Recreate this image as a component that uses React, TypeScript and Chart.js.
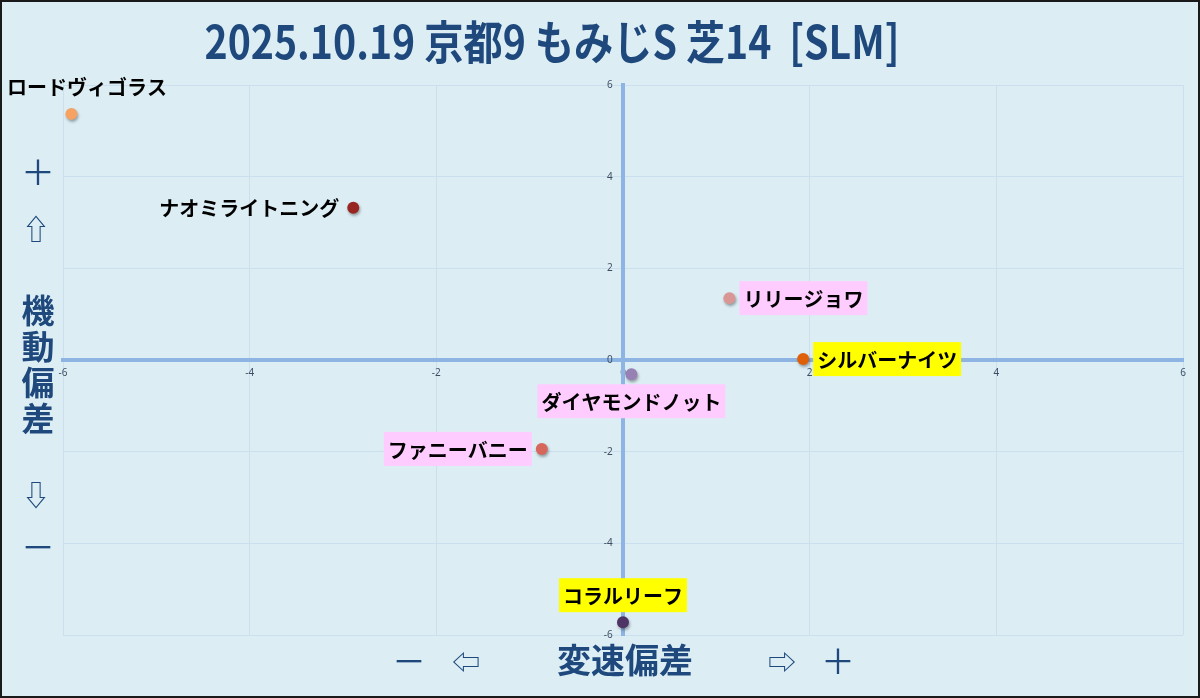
import { useEffect, useRef } from 'react';
import { Chart, registerables } from 'chart.js';

Chart.register(...registerables);

// ---- data ----
const horseNames = ['ロードヴィゴラス', 'ナオミライトニング', 'リリージョワ', 'シルバーナイツ', 'ダイヤモンドノット', 'ファニーバニー', 'コラルリーフ'];
const speedDeviation = [-5.91, -2.89, 1.14, 1.93, 0.09, -0.87, 0.0];
const mobilityDeviation = [5.37, 3.32, 1.35, 0.02, -0.31, -1.94, -5.72];

// ---- styles (kept apart from data) ----
const pointColors = ['#F5A263', '#982620', '#D99694', '#E0600A', '#9680B4', '#D6675C', '#4F3466'];
const labelHighlights = ['none', 'none', 'pink', 'yellow', 'pink', 'pink', 'yellow'];
const labelSides = ['top', 'left', 'right', 'right', 'bottom', 'left', 'top'];

const axisMin = -6;
const axisMax = 6;
const tickStep = 2;

const titleText = '2025.10.19 京都9 もみじS 芝14  [SLM]';
const yAxisTitleChars = ['機', '動', '偏', '差'];
const xAxisTitle = '変速偏差';

const NAVY = '#1F497D';
const JP = '"Noto Sans CJK JP", "Noto Sans", sans-serif';

const highlightFill: Record<string, string> = { pink: '#FFCCFF', yellow: '#FFFF00' };

const decorPlugin = {
  id: 'decor',
  beforeDraw(chart: any) {
    const { ctx, width, height } = chart;
    ctx.save();
    ctx.fillStyle = '#DCEEF4';
    ctx.fillRect(0, 0, width, height);
    ctx.restore();
  },
  beforeDatasetsDraw(chart: any) {
    const ctx = chart.ctx;
    ctx.save();
    ctx.shadowColor = 'rgba(0,0,0,0.35)';
    ctx.shadowBlur = 3;
    ctx.shadowOffsetX = 1;
    ctx.shadowOffsetY = 2;
  },
  afterDatasetsDraw(chart: any) {
    const ctx = chart.ctx;
    ctx.restore();
    const meta = chart.getDatasetMeta(0);
    const W = chart.width;
    ctx.save();
    ctx.font = `bold 20px ${JP}`;
    ctx.textBaseline = 'middle';
    ctx.textAlign = 'center';
    meta.data.forEach((pt: any, i: number) => {
      const { x, y } = pt.getProps(['x', 'y'], true);
      const name = horseNames[i];
      const tw = ctx.measureText(name).width;
      const padX = 4;
      const boxH = 34;
      const gap = 10;
      const bw = tw + padX * 2;
      let bx = 0;
      let by = 0;
      const side = labelSides[i];
      if (side === 'right') { bx = x + gap; by = y - boxH / 2; }
      else if (side === 'left') { bx = x - gap - bw; by = y - boxH / 2; }
      else if (side === 'top') { bx = x - bw / 2; by = y - gap - boxH; }
      else { bx = x - bw / 2; by = y + gap; }
      bx = Math.max(3, Math.min(W - 3 - bw, bx));
      const hl = labelHighlights[i];
      if (hl !== 'none') {
        ctx.fillStyle = highlightFill[hl];
        ctx.fillRect(bx, by, bw, boxH);
      }
      ctx.fillStyle = '#000000';
      ctx.fillText(name, bx + bw / 2, by + boxH / 2 + 1);
    });
    ctx.restore();
  },
  afterDraw(chart: any) {
    const { ctx, width, height } = chart;
    ctx.save();
    // title
    ctx.fillStyle = NAVY;
    ctx.textBaseline = 'middle';
    ctx.textAlign = 'center';
    ctx.font = `bold 46px ${JP}`;
    const tw = ctx.measureText(titleText).width;
    const sx = 695 / tw;
    ctx.save();
    ctx.translate(552, 42);
    ctx.scale(sx, 1);
    ctx.fillText(titleText, 0, 0);
    ctx.restore();

    // y axis title
    ctx.font = `34px ${JP}`;
    ctx.fillText('＋', 38, 172);
    ctx.fillText('－', 38, 547);
    ctx.font = `28px ${JP}`;
    ctx.fillText('⇧', 36, 229);
    ctx.fillText('⇩', 36, 495);
    ctx.font = `bold 33px ${JP}`;
    yAxisTitleChars.forEach((c, i) => ctx.fillText(c, 38, 310 + i * 36));

    // x axis title
    ctx.font = `34px ${JP}`;
    ctx.fillText('－', 409, 661);
    ctx.fillText('＋', 838, 661);
    ctx.font = `28px ${JP}`;
    ctx.fillText('⇦', 466, 662);
    ctx.fillText('⇨', 782, 662);
    ctx.font = `bold 34px ${JP}`;
    ctx.fillText(xAxisTitle, 625, 660);

    // outer frame
    ctx.strokeStyle = '#1A1A1A';
    ctx.lineWidth = 2;
    ctx.strokeRect(1, 1, width - 2, height - 2);
    ctx.restore();
  },
};

export default function App() {
  const canvasRef = useRef<HTMLCanvasElement | null>(null);

  useEffect(() => {
    if (!canvasRef.current) return;
    const points = speedDeviation.map((x, i) => ({ x, y: mobilityDeviation[i] }));
    const tickFont = { family: '"Noto Sans", sans-serif', size: 10 };
    const chart = new Chart(canvasRef.current, {
      type: 'scatter',
      data: {
        datasets: [
          {
            label: '偏差',
            data: points,
            pointBackgroundColor: pointColors,
            pointBorderWidth: 0,
            pointRadius: 6,
            pointHoverRadius: 6,
          },
        ],
      },
      options: {
        animation: false,
        responsive: false,
        layout: { padding: { left: 63, right: 17, top: 85, bottom: 63 } },
        plugins: {
          legend: { display: false },
          title: { display: false },
          tooltip: { enabled: false },
        },
        scales: {
          x: {
            type: 'linear',
            position: { y: 0 } as any,
            min: axisMin,
            max: axisMax,
            ticks: { stepSize: tickStep, padding: 7, color: '#3E4F63', font: tickFont, maxRotation: 0 },
            grid: { color: '#CCDFEE', lineWidth: 1, drawTicks: false },
            border: { color: '#8DB4E2', width: 4 },
          },
          y: {
            type: 'linear',
            position: { x: 0 } as any,
            min: axisMin,
            max: axisMax,
            ticks: {
              stepSize: tickStep,
              padding: 10,
              color: '#3E4F63',
              font: tickFont,
              callback: (v: any) => `${v}    `,
            },
            grid: { color: '#CCDFEE', lineWidth: 1, drawTicks: false },
            border: { color: '#8DB4E2', width: 4 },
          },
        },
      },
      plugins: [decorPlugin],
    });
    return () => chart.destroy();
  }, []);

  return (
    <div style={{ position: 'fixed', left: 0, top: 0, width: 1200, height: 698 }}>
      <canvas ref={canvasRef} width={1200} height={698} style={{ display: 'block' }} />
    </div>
  );
}
